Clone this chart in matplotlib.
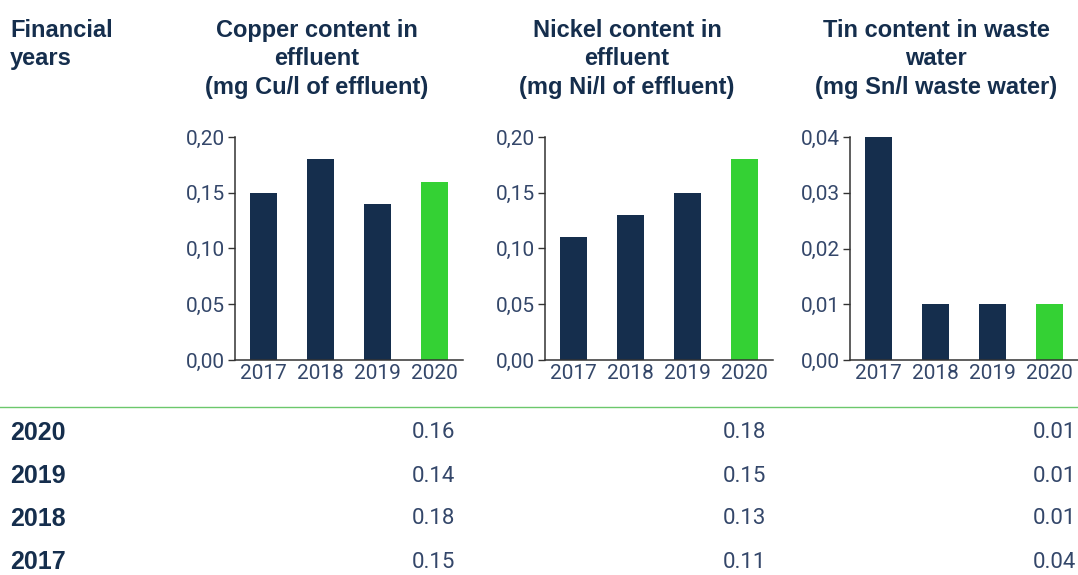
import numpy as np
import matplotlib.pyplot as plt
from matplotlib.ticker import FuncFormatter

# data
years = ["2017", "2018", "2019", "2020"]
copper = [0.15, 0.18, 0.14, 0.16]
nickel = [0.11, 0.13, 0.15, 0.18]
tin = [0.04, 0.01, 0.01, 0.01]

titles = ["Copper content in\neffluent\n(mg Cu/l of effluent)",
          "Nickel content in\neffluent\n(mg Ni/l of effluent)",
          "Tin content in waste\nwater\n(mg Sn/l waste water)"]
yticks = [[0.00, 0.05, 0.10, 0.15, 0.20],
          [0.00, 0.05, 0.10, 0.15, 0.20],
          [0.00, 0.01, 0.02, 0.03, 0.04]]

navy = "#152e4d"
green = "#34d134"
label_col = "#34476a"
light = "Roboto"

W, H = 1078, 575
fig = plt.figure(figsize=(W / 100, H / 100), dpi=100)

def px(x, y, w, h):
    return [x / W, 1 - (y + h) / H, w / W, h / H]

lefts = [235, 545, 850]
centers = [317, 627, 936]
series = [copper, nickel, tin]

for i in range(3):
    ax = fig.add_axes(px(lefts[i], 137, 228, 223))
    x = np.arange(len(years))
    cols = [navy] * (len(years) - 1) + [green]
    ax.bar(x, series[i], width=0.49, color=cols)
    ax.set_xlim(-0.5, 3.5)
    ax.set_ylim(0, yticks[i][-1])
    ax.set_yticks(yticks[i])
    ax.yaxis.set_major_formatter(FuncFormatter(lambda v, p: "{:.2f}".format(v).replace(".", ",")))
    ax.set_xticks(x)
    ax.set_xticklabels(years)
    for s in ["top", "right"]:
        ax.spines[s].set_visible(False)
    for s in ["left", "bottom"]:
        ax.spines[s].set_color("#333333")
        ax.spines[s].set_linewidth(1.1)
    ax.tick_params(axis="y", length=5, width=1, color="#333333", pad=2)
    ax.tick_params(axis="x", length=0, pad=3)
    for lab in ax.get_xticklabels() + ax.get_yticklabels():
        lab.set_fontfamily(light)
        lab.set_fontweight("normal")
        lab.set_fontsize(15)
        lab.set_color(label_col)
    fig.text(centers[i] / W, 1 - 19 / H, titles[i], ha="center", va="top",
             fontsize=17, fontweight="bold", color=navy, family="Liberation Sans",
             linespacing=1.3)

fig.text(10 / W, 1 - 19 / H, "Financial\nyears", ha="left", va="top",
         fontsize=17, fontweight="bold", color=navy, family="Liberation Sans",
         linespacing=1.3)

# separator line
fig.add_artist(plt.Line2D([0, 1], [1 - 407 / H, 1 - 407 / H], color="#6cc86c", lw=1))

# table below
rows_y = [433, 476, 519, 562]
value_x = [455, 766, 1076]
for r, yr_idx in enumerate(range(len(years) - 1, -1, -1)):
    y = 1 - rows_y[r] / H
    fig.text(10 / W, y, years[yr_idx], ha="left", va="center", fontsize=18,
             fontweight="bold", color=navy, family="Liberation Sans")
    for c in range(3):
        fig.text(value_x[c] / W, y, "{:.2f}".format(series[c][yr_idx]),
                 ha="right", va="center", fontsize=16, fontweight="normal",
                 color=label_col, family=light)

fig.savefig("out.png", dpi=100)
